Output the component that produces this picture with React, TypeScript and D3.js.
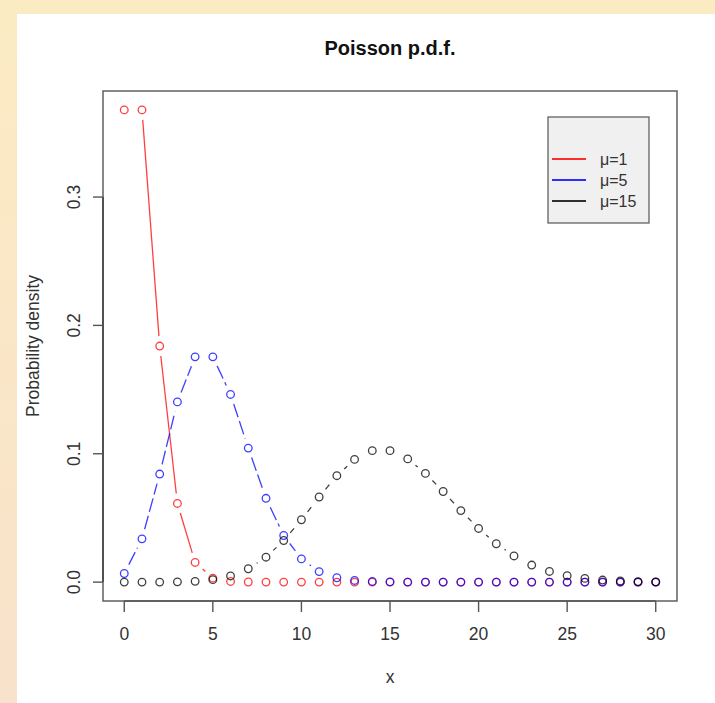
import React from 'react';
import * as d3 from 'd3';

// x = 0..30
const xs = d3.range(0, 31);

// probabilities
const mu1 = [
  0.3679, 0.3679, 0.1839, 0.0613, 0.0153, 0.0031, 0.0005, 0.0001, 0.0000, 0.0000,
  0.0000, 0.0000, 0.0000, 0.0000, 0.0000, 0.0000, 0.0000, 0.0000, 0.0000, 0.0000,
  0.0000, 0.0000, 0.0000, 0.0000, 0.0000, 0.0000, 0.0000, 0.0000, 0.0000, 0.0000, 0.0000,
];
const mu5 = [
  0.0067, 0.0337, 0.0842, 0.1404, 0.1755, 0.1755, 0.1462, 0.1044, 0.0653, 0.0363,
  0.0181, 0.0082, 0.0034, 0.0013, 0.0005, 0.0002, 0.0000, 0.0000, 0.0000, 0.0000,
  0.0000, 0.0000, 0.0000, 0.0000, 0.0000, 0.0000, 0.0000, 0.0000, 0.0000, 0.0000, 0.0000,
];
const mu15 = [
  0.0000, 0.0000, 0.0000, 0.0002, 0.0006, 0.0019, 0.0048, 0.0104, 0.0194, 0.0324,
  0.0486, 0.0663, 0.0829, 0.0956, 0.1024, 0.1024, 0.0960, 0.0847, 0.0706, 0.0557,
  0.0418, 0.0299, 0.0204, 0.0133, 0.0083, 0.0050, 0.0029, 0.0016, 0.0009, 0.0004, 0.0002,
];

const seriesNames = ['\u03bc=1', '\u03bc=5', '\u03bc=15'];
const seriesColors = ['#ff0000', '#0000ff', '#000000'];
const seriesDash = ['none', '14,4', '6,5'];
const seriesValues = [mu1, mu5, mu15];

const xTicks = [0, 5, 10, 15, 20, 25, 30];
const yTicks = [0, 0.1, 0.2, 0.3];

const W = 715;
const H = 703;
const box = { left: 103, right: 677, top: 91, bottom: 601 };
const FONT = '"Liberation Sans", Arial, Helvetica, sans-serif';
const GAP = 10; // type="b" gap around points
const LABEL_SIZE = 17.5;

const App = () => {
  // R style 4% padding on both axes
  const xPad = 30 * 0.04;
  const yMax = d3.max(mu1) as number;
  const yPad = yMax * 0.04;
  const x = d3.scaleLinear().domain([-xPad, 30 + xPad]).range([box.left, box.right]);
  const y = d3.scaleLinear().domain([-yPad, yMax + yPad]).range([box.bottom, box.top]);
  const fmt = d3.format('.1f');

  const segments = (vals: number[]) => {
    const out: { x1: number; y1: number; x2: number; y2: number }[] = [];
    for (let i = 0; i < vals.length - 1; i++) {
      const ax = x(xs[i]), ay = y(vals[i]);
      const bx = x(xs[i + 1]), by = y(vals[i + 1]);
      const len = Math.hypot(bx - ax, by - ay);
      if (len <= GAP * 2) continue;
      const ux = (bx - ax) / len, uy = (by - ay) / len;
      out.push({ x1: ax + ux * GAP, y1: ay + uy * GAP, x2: bx - ux * GAP, y2: by - uy * GAP });
    }
    return out;
  };

  const midX = (box.left + box.right) / 2;
  const midY = (box.top + box.bottom) / 2;

  return (
    <svg
      width={W}
      height={H}
      style={{ position: 'absolute', left: 0, top: 0, fontFamily: FONT }}
    >
      <defs>
        <linearGradient id="bg" x1="0" y1="0" x2="0" y2="1">
          <stop offset="0%" stopColor="#fbebc3" />
          <stop offset="100%" stopColor="#f9e2cb" />
        </linearGradient>
      </defs>
      <rect x={0} y={0} width={W} height={H} fill="url(#bg)" />
      <rect x={17} y={14} width={W - 17} height={H - 14} fill="#ffffff" />

      {/* title */}
      <text x={midX} y={55} textAnchor="middle" fontSize={20} fontWeight="bold" fill="#111">
        Poisson p.d.f.
      </text>

      {/* series */}
      {seriesValues.map((vals, si) => (
        <g key={si} opacity={0.75}>
          {segments(vals).map((s, i) => (
            <line
              key={i}
              x1={s.x1}
              y1={s.y1}
              x2={s.x2}
              y2={s.y2}
              stroke={seriesColors[si]}
              strokeWidth={1.3}
              strokeDasharray={seriesDash[si]}
            />
          ))}
          {vals.map((v, i) => (
            <circle
              key={i}
              cx={x(xs[i])}
              cy={y(v)}
              r={3.8}
              fill="none"
              stroke={seriesColors[si]}
              strokeWidth={1.3}
            />
          ))}
        </g>
      ))}

      {/* box */}
      <rect
        x={box.left}
        y={box.top}
        width={box.right - box.left}
        height={box.bottom - box.top}
        fill="none"
        stroke="#555"
        strokeWidth={1.4}
      />

      {/* x axis */}
      <g>
        <line x1={x(0)} x2={x(30)} y1={box.bottom} y2={box.bottom} stroke="#555" strokeWidth={1.4} />
        {xTicks.map((t) => (
          <g key={t}>
            <line x1={x(t)} x2={x(t)} y1={box.bottom} y2={box.bottom + 11} stroke="#555" strokeWidth={1.4} />
            <text x={x(t)} y={640} textAnchor="middle" fontSize={LABEL_SIZE} fill="#333">
              {t}
            </text>
          </g>
        ))}
        <text x={midX} y={683} textAnchor="middle" fontSize={LABEL_SIZE} fill="#333">
          x
        </text>
      </g>

      {/* y axis */}
      <g>
        <line x1={box.left} x2={box.left} y1={y(0)} y2={y(0.3)} stroke="#444" strokeWidth={1.6} />
        {yTicks.map((t) => (
          <g key={t}>
            <line x1={box.left - 10} x2={box.left} y1={y(t)} y2={y(t)} stroke="#555" strokeWidth={1.4} />
            <text
              transform={`translate(79.5,${y(t)}) rotate(-90)`}
              textAnchor="middle"
              fontSize={LABEL_SIZE}
              fill="#333"
            >
              {fmt(t)}
            </text>
          </g>
        ))}
        <text
          transform={`translate(39,${midY}) rotate(-90)`}
          textAnchor="middle"
          fontSize={LABEL_SIZE}
          fill="#333"
        >
          Probability density
        </text>
      </g>

      {/* legend */}
      <g>
        <rect x={548} y={117} width={101} height={106} fill="#f0f0f0" stroke="#555" strokeWidth={1.2} />
        {seriesNames.map((name, i) => (
          <g key={name} transform={`translate(0,${159 + i * 21})`}>
            <line x1={552} x2={586} y1={0} y2={0} stroke={seriesColors[i]} strokeWidth={2} opacity={0.8} />
            <text x={600} y={5.5} fontSize={16} fill="#333">
              {name}
            </text>
          </g>
        ))}
      </g>
    </svg>
  );
};

export default App;
